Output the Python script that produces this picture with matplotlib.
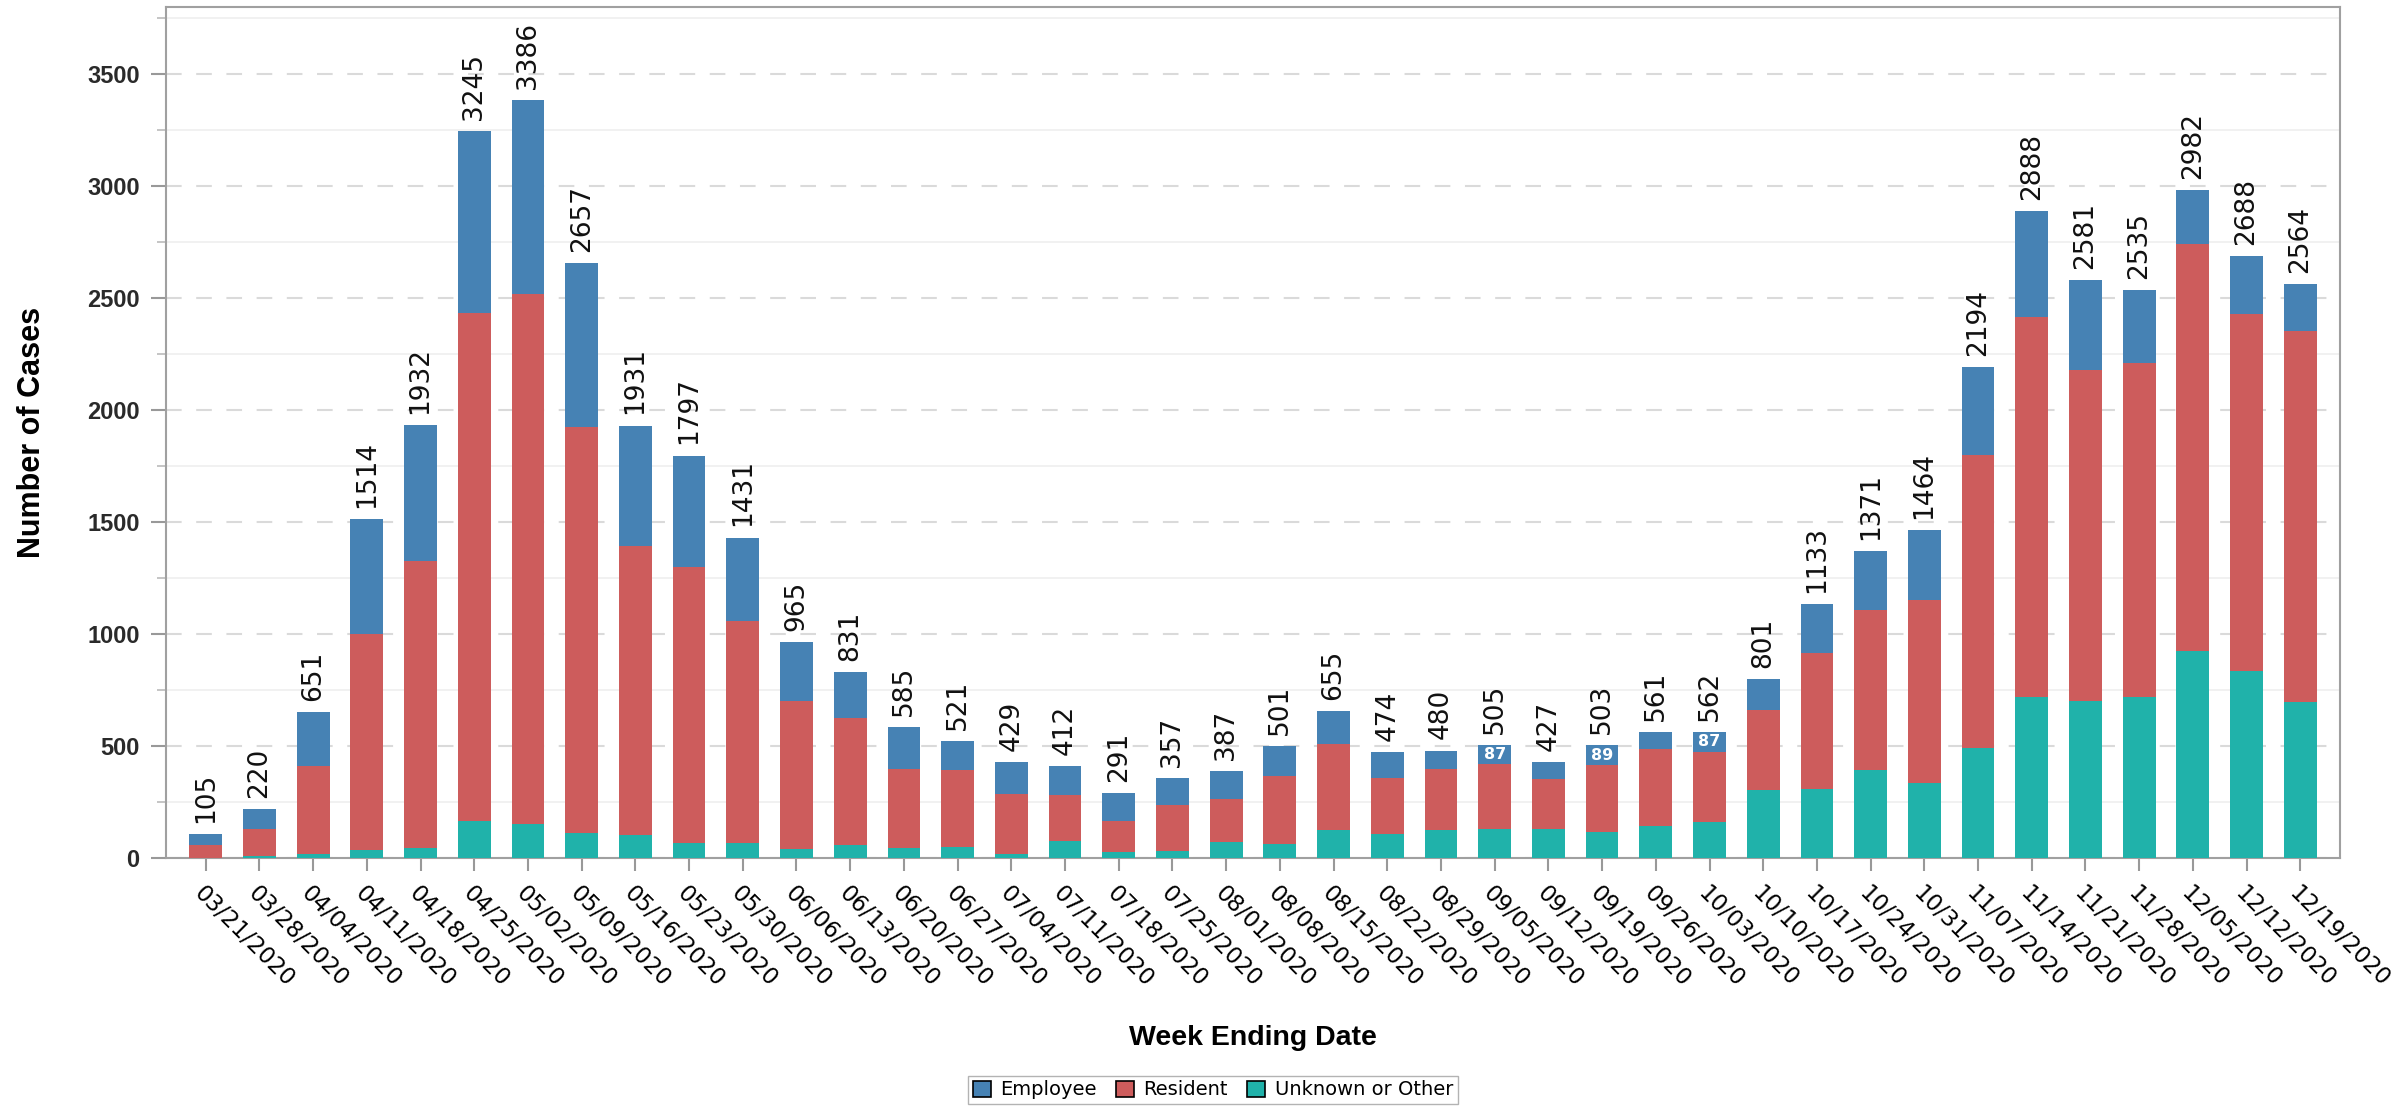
import numpy as np
import matplotlib
matplotlib.use('Agg')
import matplotlib.pyplot as plt
from matplotlib.ticker import MultipleLocator

# 週別資料 (week ending date)
dates = ['03/21/2020', '03/28/2020', '04/04/2020', '04/11/2020', '04/18/2020',
         '04/25/2020', '05/02/2020', '05/09/2020', '05/16/2020', '05/23/2020',
         '05/30/2020', '06/06/2020', '06/13/2020', '06/20/2020', '06/27/2020',
         '07/04/2020', '07/11/2020', '07/18/2020', '07/25/2020', '08/01/2020',
         '08/08/2020', '08/15/2020', '08/22/2020', '08/29/2020', '09/05/2020',
         '09/12/2020', '09/19/2020', '09/26/2020', '10/03/2020', '10/10/2020',
         '10/17/2020', '10/24/2020', '10/31/2020', '11/07/2020', '11/14/2020',
         '11/21/2020', '11/28/2020', '12/05/2020', '12/12/2020', '12/19/2020']

unknown = [2, 10, 20, 36, 46, 167, 154, 110, 103, 67,
           69, 38, 56, 44, 49, 20, 74, 28, 31, 72,
           62, 123, 105, 123, 131, 131, 118, 141, 159, 303,
           308, 395, 336, 492, 718, 700, 718, 923, 833, 697]

resident = [57, 118, 390, 964, 1280, 2266, 2366, 1816, 1289, 1233,
            990, 662, 570, 353, 343, 267, 208, 139, 205, 190,
            305, 385, 251, 274, 287, 220, 296, 344, 316, 359,
            607, 713, 815, 1308, 1697, 1479, 1492, 1820, 1595, 1657]

employee = [46, 92, 241, 514, 606, 812, 866, 731, 539, 497,
            372, 265, 205, 188, 129, 142, 130, 124, 121, 125,
            134, 147, 118, 83, 87, 76, 89, 76, 87, 139,
            218, 263, 313, 394, 473, 402, 325, 239, 260, 210]

# bars whose employee segment carries its own label
emp_label_idx = [24, 26, 28]

c_emp = '#4682B4'
c_res = '#CD5C5C'
c_unk = '#20B2AA'

fig = plt.figure(figsize=(24.02, 11.14), dpi=100)
ax = fig.add_axes([0.0691, 0.2298, 0.9051, 0.7639])

x = np.arange(len(dates))
unk = np.array(unknown)
res = np.array(resident)
emp = np.array(employee)
total = unk + res + emp

w = 0.61
ax.bar(x, unk, w, color=c_unk, label='Unknown or Other', zorder=3)
ax.bar(x, res, w, bottom=unk, color=c_res, label='Resident', zorder=3)
ax.bar(x, emp, w, bottom=unk + res, color=c_emp, label='Employee', zorder=3)

# 總數標籤
for xi, t in zip(x, total):
    ax.annotate(str(t), (xi, t), xytext=(0, 8), textcoords='offset points',
                rotation=90, ha='center', va='bottom', fontsize=19,
                family='DejaVu Sans', color='#111111')

for i in emp_label_idx:
    ax.text(x[i], unk[i] + res[i] + emp[i] / 2, str(emp[i]), ha='center',
            va='center', fontsize=11.5, fontweight='bold', color='white',
            family='DejaVu Sans', zorder=4)

ax.set_xlim(-0.74, len(dates) - 0.26)
ax.set_ylim(0, 3800)
ax.yaxis.set_major_locator(MultipleLocator(500))
ax.yaxis.set_minor_locator(MultipleLocator(250))
ax.grid(which='major', axis='y', color='#dadada', linestyle=(0, (7.5, 7)),
        linewidth=1.5, zorder=0)
ax.grid(which='minor', axis='y', color='#efefef', linewidth=1.2, zorder=0)

ax.set_xticks(x)
ax.set_xticklabels(dates, rotation=-45, ha='left', va='top',
                   rotation_mode='anchor', fontsize=16.5, family='DejaVu Sans')
ax.tick_params(axis='x', length=9.5, width=1.5, color='#999999', pad=8)
ax.tick_params(axis='y', which='major', length=11, width=1.5, color='#999999',
               pad=8, labelsize=17, labelcolor='#2a2a2a')
ax.tick_params(axis='y', which='minor', length=6.5, width=1.2, color='#bbbbbb')
for lbl in ax.get_yticklabels():
    lbl.set_fontweight('bold')
    lbl.set_family('Liberation Sans')

for sp in ax.spines.values():
    sp.set_color('#a0a0a0')
    sp.set_linewidth(1.5)

ax.set_ylabel('Number of Cases', fontsize=22, fontweight='bold',
              family='Liberation Sans')
ax.yaxis.set_label_coords(-0.0545, 0.5)
ax.set_xlabel('Week Ending Date', fontsize=20.5, fontweight='bold',
              family='Liberation Sans')
ax.xaxis.set_label_coords(0.5, -0.196)

handles, labels = ax.get_legend_handles_labels()
order = [2, 1, 0]
leg = fig.legend([handles[i] for i in order], [labels[i] for i in order],
                 loc='lower center', bbox_to_anchor=(0.505, 0.0), ncol=3,
                 frameon=True, fancybox=False, edgecolor='#a0a0a0',
                 handlelength=0.9, handleheight=0.9, handletextpad=0.5,
                 columnspacing=1.0, borderpad=0.25,
                 prop={'family': 'DejaVu Sans', 'size': 14})
for p in leg.get_patches():
    p.set_edgecolor('black')
    p.set_linewidth(1.2)

fig.savefig('out.png', dpi=100)
